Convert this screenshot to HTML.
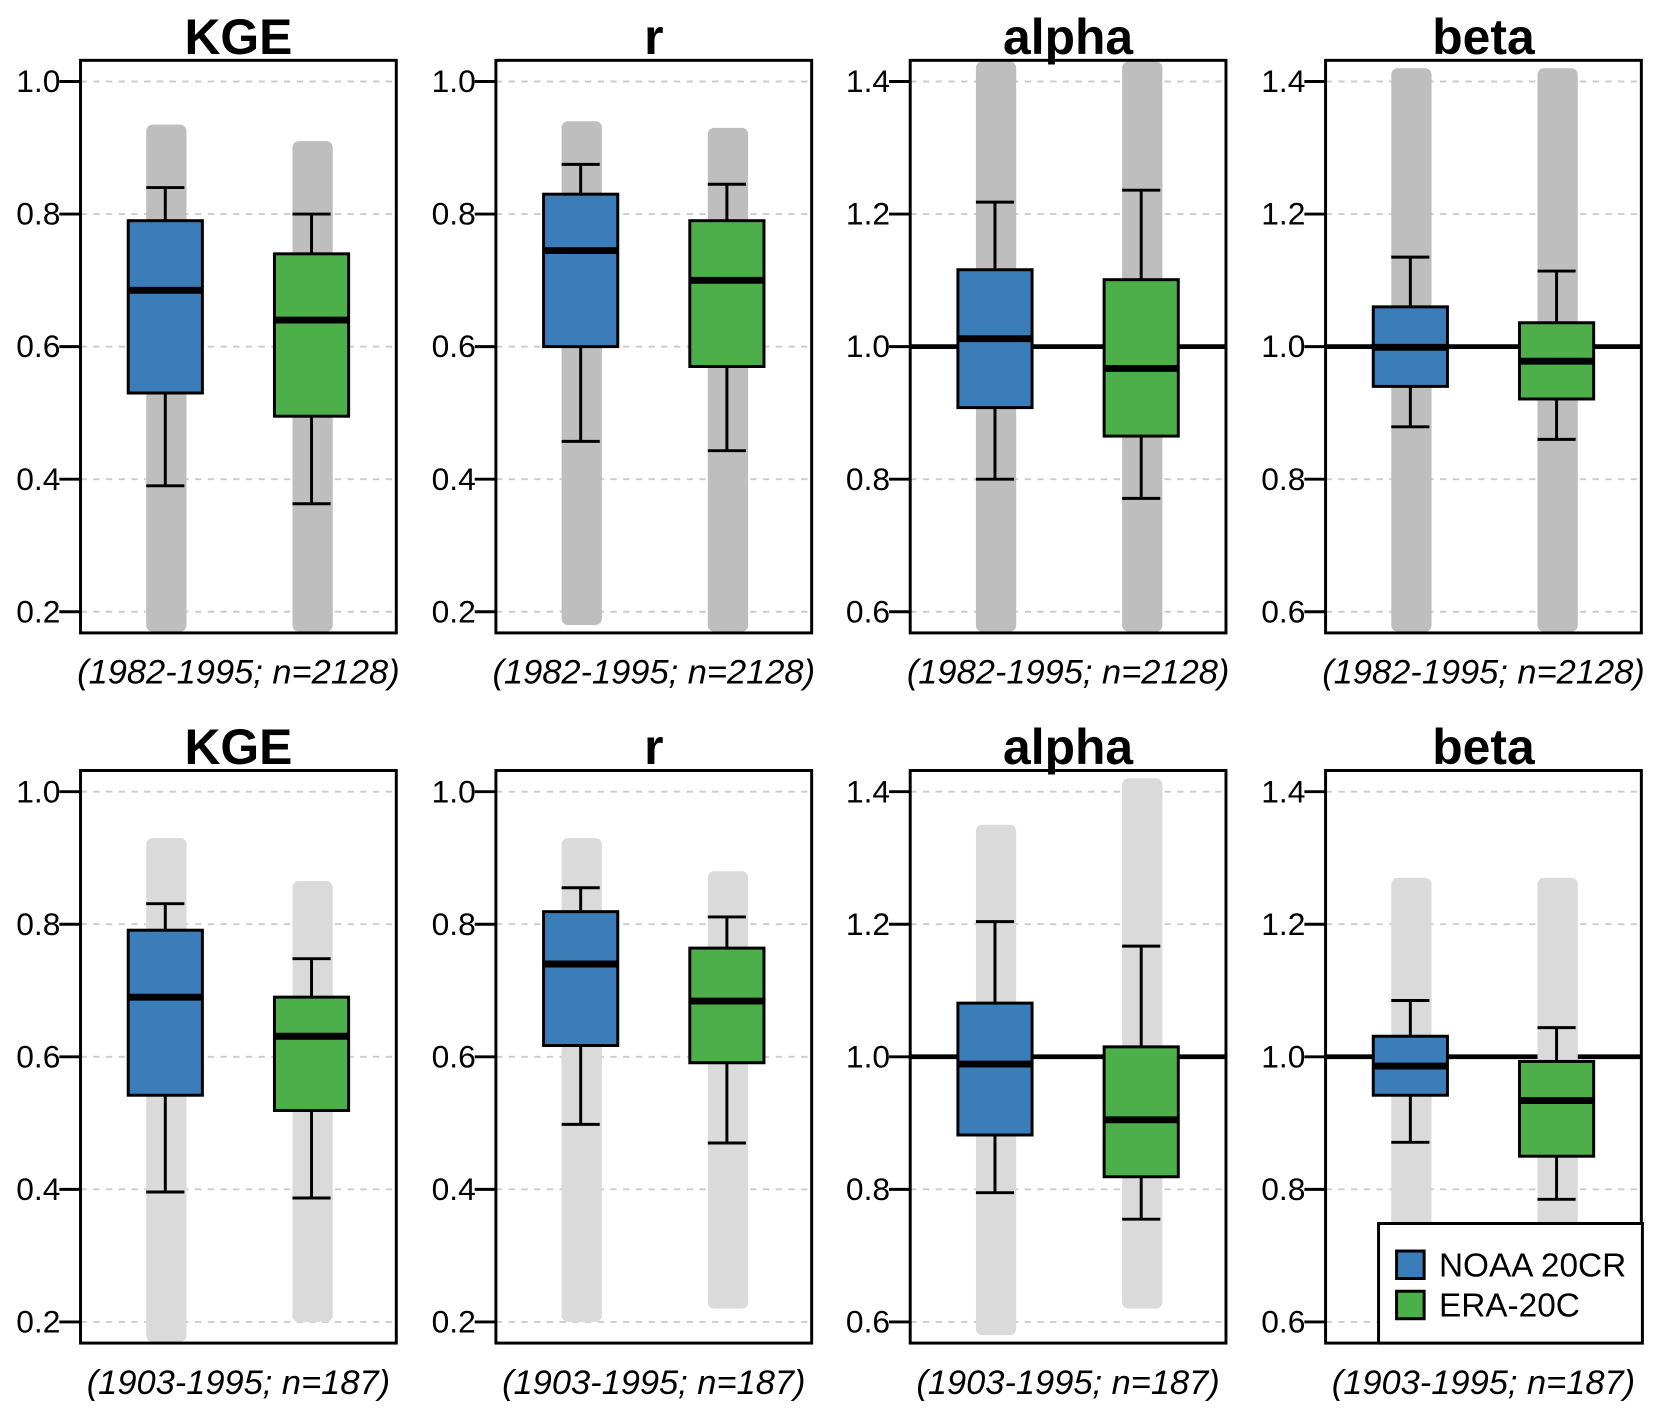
<!DOCTYPE html>
<html><head><meta charset="utf-8"><style>
html,body{margin:0;padding:0;background:#fff;}
svg{display:block;font-family:"Liberation Sans",Arial,sans-serif;}
</style></head><body>
<svg id="chart" width="1653" height="1414" viewBox="0 0 1560 1336" preserveAspectRatio="none" xmlns="http://www.w3.org/2000/svg"></svg>
<script>
const titles = ["KGE","r","alpha","beta"];
const subtitles = ["(1982-1995; n=2128)","(1903-1995; n=187)"];
const ranges = [[0.17,1.03],[0.17,1.03],[0.57,1.43],[0.57,1.43]];
const tickSets = [[0.2,0.4,0.6,0.8,1.0],[0.2,0.4,0.6,0.8,1.0],[0.6,0.8,1.0,1.2,1.4],[0.6,0.8,1.0,1.2,1.4]];
// stats: [whiskLo, Q1, median, Q3, whiskHi]
const topBlue = [[0.39,0.53,0.685,0.79,0.84],[0.457,0.60,0.745,0.83,0.875],[0.80,0.908,1.012,1.116,1.218],[0.879,0.94,0.999,1.06,1.135]];
const topGreen = [[0.363,0.495,0.64,0.74,0.80],[0.443,0.57,0.70,0.79,0.845],[0.771,0.865,0.967,1.101,1.236],[0.86,0.921,0.978,1.036,1.114]];
const botBlue = [[0.396,0.542,0.690,0.791,0.831],[0.498,0.617,0.740,0.819,0.855],[0.795,0.882,0.989,1.081,1.204],[0.871,0.942,0.986,1.031,1.085]];
const botGreen = [[0.387,0.519,0.631,0.690,0.748],[0.470,0.591,0.684,0.764,0.811],[0.755,0.819,0.905,1.015,1.167],[0.785,0.850,0.934,0.993,1.044]];
// point cloud extents [min,max]
const topCloudBlue = [[0.17,0.935],[0.18,0.94],[0.57,1.43],[0.57,1.42]];
const topCloudGreen = [[0.17,0.91],[0.17,0.93],[0.57,1.43],[0.57,1.42]];
const botCloudBlue = [[0.17,0.93],[0.2,0.93],[0.58,1.35],[0.74,1.27]];
const botCloudGreen = [[0.2,0.865],[0.22,0.88],[0.62,1.42],[0.72,1.27]];

const NS="http://www.w3.org/2000/svg";
const svg=document.getElementById('chart');
function mk(tag,attrs,parent){const e=document.createElementNS(NS,tag);for(const k in attrs)e.setAttribute(k,attrs[k]);(parent||svg).appendChild(e);return e;}
const panelX=[76,468,859,1251], PW=298;
const rowY=[57,728], PH=541;
const rows=[{b:topBlue,g:topGreen,cb:topCloudBlue,cg:topCloudGreen,sub:subtitles[0],light:false},
            {b:botBlue,g:botGreen,cb:botCloudBlue,cg:botCloudGreen,sub:subtitles[1],light:true}];
rows.forEach((row,ri)=>{
  for(let pi=0;pi<4;pi++){
    const x0=panelX[pi], y0=rowY[ri];
    const lo=ranges[pi][0], hi=ranges[pi][1];
    const yS=v=>y0+20+(tickSets[pi][4]-v)/(tickSets[pi][4]-tickSets[pi][0])*501;
    const g=mk('g',{});
    
    
    const t=mk('text',{x:x0+PW/2,y:y0-6,'text-anchor':'middle','font-size':47,'font-weight':'bold'},g);
    t.textContent=titles[pi];
    
    
    tickSets[pi].forEach(v=>{
      const y=yS(v);
      const gl=mk('line',{x1:x0,x2:x0+PW,y1:y,y2:y,stroke:'#cccccc','stroke-width':1.8,'stroke-dasharray':'6,6'},g);
      
      
      mk('line',{x1:x0-20,x2:x0,y1:y,y2:y,stroke:'#000','stroke-width':2.8},g);
      const tl=mk('text',{x:x0-19,y:y+10,'text-anchor':'end','font-size':30},g);
      tl.textContent=v.toFixed(1);
      
      
    });
    if(pi>=2){
      const rl=mk('line',{x1:x0,x2:x0+PW,y1:yS(1.0),y2:yS(1.0),stroke:'#000','stroke-width':4.5},g);
      
      
    }
    const series=[{s:row.b[pi],c:row.cb[pi],col:'#3a7db8',cx:x0+80,n:'noaa'},{s:row.g[pi],c:row.cg[pi],col:'#4daf4a',cx:x0+218,n:'era'}];
    series.forEach(se=>{
      const cy1=yS(Math.min(se.c[1],hi)), cy2=yS(Math.max(se.c[0],lo));
      const cl=mk('rect',{x:se.cx-18,y:cy1,width:38,height:cy2-cy1,fill:row.light?'#dadada':'#bebebe',rx:6},g);
      
      
      const s=se.s;
      mk('line',{x1:se.cx,x2:se.cx,y1:yS(s[4]),y2:yS(s[0]),stroke:'#000','stroke-width':2.8},g);
      mk('line',{x1:se.cx-18,x2:se.cx+18,y1:yS(s[4]),y2:yS(s[4]),stroke:'#000','stroke-width':2.8},g);
      mk('line',{x1:se.cx-18,x2:se.cx+18,y1:yS(s[0]),y2:yS(s[0]),stroke:'#000','stroke-width':2.8},g);
      const b=mk('rect',{x:se.cx-35,y:yS(s[3]),width:70,height:yS(s[1])-yS(s[3]),fill:se.col,stroke:'#000','stroke-width':2.8},g);
      
      
      mk('line',{x1:se.cx-35,x2:se.cx+35,y1:yS(s[2]),y2:yS(s[2]),stroke:'#000','stroke-width':6.5},g);
    });
    mk('rect',{x:x0,y:y0,width:PW,height:PH,fill:'none',stroke:'#000','stroke-width':2.8},g);
    const st=mk('text',{x:x0+PW/2,y:y0+PH+48,'text-anchor':'middle','font-size':32.5,'font-style':'italic'},g);
    st.textContent=row.sub;
    
    
  }
});
const lg=mk('g',{});


mk('rect',{x:1301,y:1156,width:249,height:113,fill:'#fff',stroke:'#000','stroke-width':2.8},lg);
[['NOAA 20CR','#3a7db8',1182],['ERA-20C','#4daf4a',1220]].forEach(([n,c,y])=>{
  mk('rect',{x:1318,y:y,width:26,height:26,fill:c,stroke:'#000','stroke-width':2.8},lg);
  const t=mk('text',{x:1358,y:y+24,'font-size':31.5},lg);
  t.textContent=n;
  
  
});
</script>
</body></html>
